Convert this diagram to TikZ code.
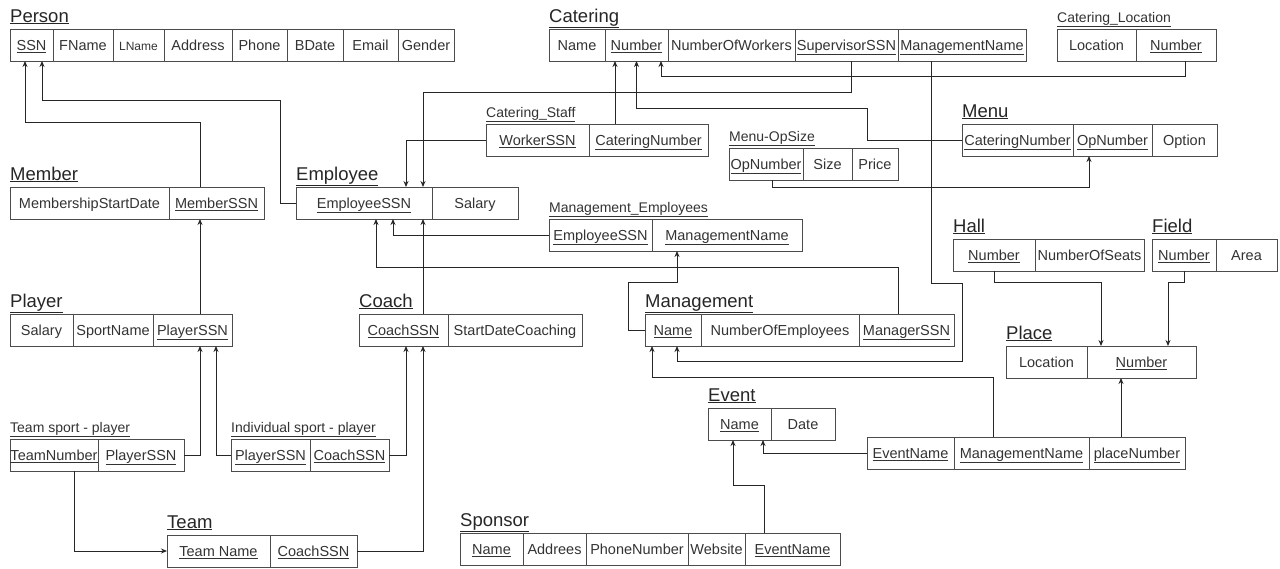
\documentclass[tikz,border=0pt]{standalone}
\usepackage{fontspec}
\setmainfont{Liberation Sans}
\usetikzlibrary{positioning,arrows.meta}

\tikzset{
  cell/.style={draw=black!70, line width=0.9pt, minimum height=32pt, inner sep=0pt, outer sep=0pt,
    text height=12.5pt, text depth=2pt, text=black!80, font=\fontsize{14.5}{17}\selectfont},
  bigtitle/.style={inner sep=0pt, anchor=base west, text=black!85, font=\fontsize{18.5}{20}\selectfont},
  smalltitle/.style={inner sep=0pt, anchor=base west, text=black!80, font=\fontsize{14}{16}\selectfont},
  fk/.style={draw=black!85, line width=0.9pt, -{Stealth[length=6pt,width=5pt]}},
}

\begin{document}
\begin{tikzpicture}[x=1pt, y=-1pt]
    \useasboundingbox (0,0) rectangle (1280,568);

    % Person
    \node[cell, minimum width=43pt, anchor=north west] (ps-ssn) at (10,29) {\underline{SSN}};
    \node[cell, minimum width=60pt, right=0pt of ps-ssn] (ps-fn) {FName};
    \node[cell, minimum width=51pt, right=0pt of ps-fn, font=\fontsize{12}{14}\selectfont] (ps-ln) {LName};
    \node[cell, minimum width=68pt, right=0pt of ps-ln] (ps-ad) {Address};
    \node[cell, minimum width=55pt, right=0pt of ps-ad] (ps-ph) {Phone};
    \node[cell, minimum width=56pt, right=0pt of ps-ph] (ps-bd) {BDate};
    \node[cell, minimum width=55pt, right=0pt of ps-bd] (ps-em) {Email};
    \node[cell, minimum width=56pt, right=0pt of ps-em] (ps-gd) {Gender};
    \node[bigtitle] (t-person) at ([yshift=7pt]ps-ssn.north west) {\underline{Person}};

    % Catering
    \node[cell, minimum width=56pt, anchor=north west] (ct-name) at (549,29) {Name};
    \node[cell, minimum width=63pt, right=0pt of ct-name] (ct-num) {\underline{Number}};
    \node[cell, minimum width=127pt, right=0pt of ct-num] (ct-now) {NumberOfWorkers};
    \node[cell, minimum width=103pt, right=0pt of ct-now] (ct-sup) {\underline{SupervisorSSN}};
    \node[cell, minimum width=128pt, right=0pt of ct-sup] (ct-mgn) {\underline{ManagementName}};
    \node[bigtitle] (t-catering) at ([yshift=7pt]ct-name.north west) {\underline{Catering}};

    % Catering_Location
    \node[cell, minimum width=79pt, anchor=north west] (cl-loc) at (1057,29) {Location};
    \node[cell, minimum width=80pt, right=0pt of cl-loc] (cl-num) {\underline{Number}};
    \node[smalltitle] (t-cateringloc) at ([yshift=7pt]cl-loc.north west) {\underline{Catering\_Location}};

    % Menu
    \node[cell, minimum width=111pt, anchor=north west] (mn-cn) at (962,124) {\underline{CateringNumber}};
    \node[cell, minimum width=79pt, right=0pt of mn-cn] (mn-op) {\underline{OpNumber}};
    \node[cell, minimum width=65pt, right=0pt of mn-op] (mn-opt) {Option};
    \node[bigtitle] (t-menu) at ([yshift=7pt]mn-cn.north west) {\underline{Menu}};

    % Menu-OpSize
    \node[cell, minimum width=74pt, anchor=north west] (mo-op) at (729,148) {\underline{OpNumber}};
    \node[cell, minimum width=49pt, right=0pt of mo-op] (mo-sz) {Size};
    \node[cell, minimum width=46pt, right=0pt of mo-sz] (mo-pr) {Price};
    \node[smalltitle] (t-menuopsize) at ([yshift=7pt]mo-op.north west) {\underline{Menu-OpSize}};

    % Catering_Staff
    \node[cell, minimum width=103pt, anchor=north west] (cs-wk) at (486,124) {\underline{WorkerSSN}};
    \node[cell, minimum width=119pt, right=0pt of cs-wk] (cs-cn) {\underline{CateringNumber}};
    \node[smalltitle] (t-cateringstaff) at ([yshift=7pt]cs-wk.north west) {\underline{Catering\_Staff}};

    % Member
    \node[cell, minimum width=159pt, anchor=north west] (mb-sd) at (10,187) {MembershipStartDate};
    \node[cell, minimum width=95pt, right=0pt of mb-sd] (mb-ssn) {\underline{MemberSSN}};
    \node[bigtitle] (t-member) at ([yshift=7pt]mb-sd.north west) {\underline{Member}};

    % Employee
    \node[cell, minimum width=136pt, anchor=north west] (em-ssn) at (296,187) {\underline{EmployeeSSN}};
    \node[cell, minimum width=86pt, right=0pt of em-ssn] (em-sal) {Salary};
    \node[bigtitle] (t-employee) at ([yshift=7pt]em-ssn.north west) {\underline{Employee}};

    % Management_Employees
    \node[cell, minimum width=103pt, anchor=north west] (me-ssn) at (549,219) {\underline{EmployeeSSN}};
    \node[cell, minimum width=150pt, right=0pt of me-ssn] (me-mgn) {\underline{ManagementName}};
    \node[smalltitle] (t-mgmtemp) at ([yshift=7pt]me-ssn.north west) {\underline{Management\_Employees}};

    % Hall
    \node[cell, minimum width=82pt, anchor=north west] (hl-num) at (953,239) {\underline{Number}};
    \node[cell, minimum width=109pt, right=0pt of hl-num] (hl-seats) {NumberOfSeats};
    \node[bigtitle] (t-hall) at ([yshift=7pt]hl-num.north west) {\underline{Hall}};

    % Field
    \node[cell, minimum width=64pt, anchor=north west] (fd-num) at (1152,239) {\underline{Number}};
    \node[cell, minimum width=61pt, right=0pt of fd-num] (fd-area) {Area};
    \node[bigtitle] (t-field) at ([yshift=7pt]fd-num.north west) {\underline{Field}};

    % Player
    \node[cell, minimum width=63pt, anchor=north west] (pl-sal) at (10,314) {Salary};
    \node[cell, minimum width=80pt, right=0pt of pl-sal] (pl-sp) {SportName};
    \node[cell, minimum width=79pt, right=0pt of pl-sp] (pl-ssn) {\underline{PlayerSSN}};
    \node[bigtitle] (t-player) at ([yshift=7pt]pl-sal.north west) {\underline{Player}};

    % Coach
    \node[cell, minimum width=89pt, anchor=north west] (co-ssn) at (359,314) {\underline{CoachSSN}};
    \node[cell, minimum width=134pt, right=0pt of co-ssn] (co-sd) {StartDateCoaching};
    \node[bigtitle] (t-coach) at ([yshift=7pt]co-ssn.north west) {\underline{Coach}};

    % Management
    \node[cell, minimum width=56pt, anchor=north west] (mg-name) at (645,314) {\underline{Name}};
    \node[cell, minimum width=158pt, right=0pt of mg-name] (mg-noe) {NumberOfEmployees};
    \node[cell, minimum width=95pt, right=0pt of mg-noe] (mg-mgr) {\underline{ManagerSSN}};
    \node[bigtitle] (t-management) at ([yshift=7pt]mg-name.north west) {\underline{Management}};

    % Place
    \node[cell, minimum width=81pt, anchor=north west] (pc-loc) at (1006,346) {Location};
    \node[cell, minimum width=109pt, right=0pt of pc-loc] (pc-num) {\underline{Number}};
    \node[bigtitle] (t-place) at ([yshift=7pt]pc-loc.north west) {\underline{Place}};

    % Event
    \node[cell, minimum width=63pt, anchor=north west] (ev-name) at (708,408) {\underline{Name}};
    \node[cell, minimum width=64pt, right=0pt of ev-name] (ev-date) {Date};
    \node[bigtitle] (t-event) at ([yshift=7pt]ev-name.north west) {\underline{Event}};

    % Event - Management - Place
    \node[cell, minimum width=87pt, anchor=north west] (er-ev) at (867,437) {\underline{EventName}};
    \node[cell, minimum width=135pt, right=0pt of er-ev] (er-mgn) {\underline{ManagementName}};
    \node[cell, minimum width=96pt, right=0pt of er-mgn] (er-pl) {\underline{placeNumber}};

    % Team sport - player
    \node[cell, minimum width=88pt, anchor=north west] (ts-tn) at (10,439) {\underline{TeamNumber}};
    \node[cell, minimum width=86pt, right=0pt of ts-tn] (ts-pl) {\underline{PlayerSSN}};
    \node[smalltitle] (t-teamsport) at ([yshift=7pt]ts-tn.north west) {\underline{Team sport - player}};

    % Individual sport - player
    \node[cell, minimum width=79pt, anchor=north west] (is-pl) at (231,439) {\underline{PlayerSSN}};
    \node[cell, minimum width=79pt, right=0pt of is-pl] (is-co) {\underline{CoachSSN}};
    \node[smalltitle] (t-indsport) at ([yshift=7pt]is-pl.north west) {\underline{Individual sport - player}};

    % Team
    \node[cell, minimum width=103pt, anchor=north west] (tm-name) at (167,535) {\underline{Team Name}};
    \node[cell, minimum width=87pt, right=0pt of tm-name] (tm-co) {\underline{CoachSSN}};
    \node[bigtitle] (t-team) at ([yshift=7pt]tm-name.north west) {\underline{Team}};

    % Sponsor
    \node[cell, minimum width=63pt, anchor=north west] (sp-name) at (460,533) {\underline{Name}};
    \node[cell, minimum width=63pt, right=0pt of sp-name] (sp-ad) {Addrees};
    \node[cell, minimum width=102pt, right=0pt of sp-ad] (sp-ph) {PhoneNumber};
    \node[cell, minimum width=57pt, right=0pt of sp-ph] (sp-web) {Website};
    \node[cell, minimum width=95pt, right=0pt of sp-web] (sp-ev) {\underline{EventName}};
    \node[bigtitle] (t-sponsor) at ([yshift=7pt]sp-name.north west) {\underline{Sponsor}};

    % Foreign keys to Person
    \draw[fk] ([xshift=-16pt]mb-ssn.north) -- ++(0,-65) -| ([xshift=-6.5pt]ps-ssn.south);
    \draw[fk] (em-ssn.west) -- ++(-16,0) -- ++(0,-103) -| ([xshift=10.5pt]ps-ssn.south);

    % Member, Employee
    \draw[fk] ([xshift=7.5pt]pl-ssn.north) -- ([xshift=7.5pt]pl-ssn.north |- mb-ssn.south);
    \draw[fk] ([xshift=19.5pt]co-ssn.north) -- ([xshift=19.5pt]co-ssn.north |- em-ssn.south);
    \draw[fk] (me-ssn.west) -| ([xshift=29pt]em-ssn.south);
    \draw[fk] ([xshift=-8.5pt]mg-mgr.north) -- ++(0,-47) -| ([xshift=12pt]em-ssn.south);
    \draw[fk] (cs-wk.west) -| ([xshift=42pt]em-ssn.north);
    \draw[fk] ([xshift=4.5pt]ct-sup.south) -- ++(0,31) -| ([xshift=59pt]em-ssn.north);

    % Management
    \draw[fk] (mg-name.west) -- ++(-17,0) -- ++(0,-48) -| ([xshift=-50pt]me-mgn.south);
    \draw[fk] ([xshift=-31pt]ct-mgn.south) -- ++(0,222) -- ++(31,0) -- ++(0,78) -| ([xshift=4pt]mg-name.south);
    \draw[fk] ([xshift=-28.5pt]er-mgn.north) -- ++(0,-60) -| ([xshift=-21pt]mg-name.south);

    % Catering
    \draw[fk] ([xshift=-33.5pt]cs-cn.north) -- ([xshift=-33.5pt]cs-cn.north |- ct-num.south);
    \draw[fk] ([xshift=9pt]cl-num.south) -- ++(0,15) -| ([xshift=24.5pt]ct-num.south);
    \draw[fk] (mn-cn.west) -- ++(-95,0) -- ++(0,-32) -| (ct-num.south);
    \draw[fk] ([xshift=6pt]mo-op.south) -- ++(0,7) -| ([xshift=-23.5pt]mn-op.south);

    % Event, Place
    \draw[fk] (er-ev.west) -| ([xshift=23.5pt]ev-name.south);
    \draw[fk] ([xshift=-16pt]er-pl.north) -- ([xshift=-16pt]er-pl.north |- pc-num.south);
    \draw[fk] (hl-num.south) -- ++(0,11) -| ([xshift=-40.5pt]pc-num.north);
    \draw[fk] (fd-num.south) -- ++(0,11) -| ([xshift=26.5pt]pc-num.north);
    \draw[fk] ([xshift=-28.5pt]sp-ev.north) -- ++(0,-48) -| ([xshift=-6.5pt]ev-name.south);

    % Player, Coach, Team
    \draw[fk] (ts-pl.east) -| ([xshift=7.5pt]pl-ssn.south);
    \draw[fk] (is-pl.west) -| ([xshift=23.5pt]pl-ssn.south);
    \draw[fk] (is-co.east) -| ([xshift=2.5pt]co-ssn.south);
    \draw[fk] (tm-co.east) -| ([xshift=19.5pt]co-ssn.south);
    \draw[fk] ([xshift=20pt]ts-tn.south) |- (tm-name.west);
\end{tikzpicture}
\end{document}
